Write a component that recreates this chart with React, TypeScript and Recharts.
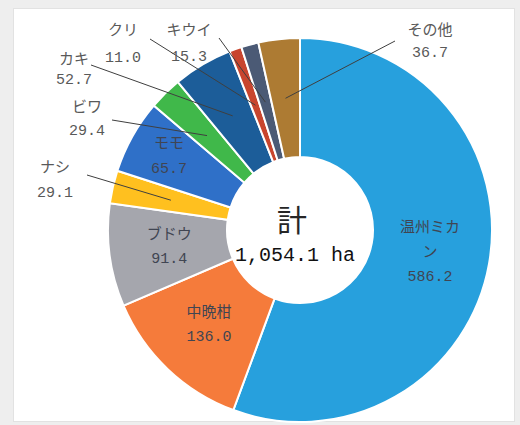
import React from 'react';
import { PieChart, Pie, Cell, Label } from 'recharts';

// ---- data ----
const CATEGORIES = ['温州ミカン', '中晩柑', 'ブドウ', 'ナシ', 'モモ', 'ビワ', 'カキ', 'クリ', 'キウイ', 'その他'];
const AREA_HA = [586.2, 136.0, 91.4, 29.1, 65.7, 29.4, 52.7, 11.0, 15.3, 36.7];
const COLORS = ['#27a0dd', '#f57b3b', '#a5a6ad', '#ffc01f', '#2f70c8', '#40b84a', '#1c5d99', '#c8452e', '#4b5a75', '#ad7b33'];
const TOTAL_TITLE = '計';
const TOTAL_LABEL = '1,054.1 ha';

// ---- label layout (offsets from pie centre) ----
const INSIDE: Record<string, { r: number; wrap?: number }> = {
  '温州ミカン': { r: 132, wrap: 4 },
  '中晩柑': { r: 132 },
  'ブドウ': { r: 132 },
  'モモ': { r: 150 },
};
const OUTSIDE: Record<string, { tx: number; ty: number; lx: number; ly: number; step?: number }> = {
  'ナシ': { tx: -245, ty: -62, lx: -213, ly: -55 },
  'ビワ': { tx: -213, ty: -122, lx: -188, ly: -110, step: 23 },
  'カキ': { tx: -226, ty: -170, lx: -209, ly: -165, step: 20 },
  'クリ': { tx: -177, ty: -199, lx: -150, ly: -191, step: 27 },
  'キウイ': { tx: -111, ty: -199, lx: -81, ly: -192, step: 26 },
  'その他': { tx: 130, ty: -199, lx: 95, ly: -189, step: 22 },
};

const data = CATEGORIES.map((name, i) => ({ name, value: AREA_HA[i] }));
const RADIAN = Math.PI / 180;
const LABEL_FONT = '"Liberation Mono", "Noto Sans CJK JP", monospace';

const renderLabel = (props: any) => {
  const { cx, cy, midAngle, innerRadius, outerRadius, name, value } = props;
  const valText = Number(value).toFixed(1);
  if (INSIDE[name]) {
    const cfg = INSIDE[name];
    const r = cfg.r ?? (innerRadius + outerRadius) / 2;
    const x = cx + r * Math.cos(-midAngle * RADIAN);
    const y = cy + r * Math.sin(-midAngle * RADIAN);
    const lines: string[] = cfg.wrap ? [name.slice(0, cfg.wrap), name.slice(cfg.wrap), valText] : [name, valText];
    const step = 24.5;
    const y0 = y - ((lines.length - 1) * step) / 2;
    return (
      <text x={x} y={y0} fill="#404552" fontSize={15} fontFamily={LABEL_FONT} textAnchor="middle">
        {lines.map((l, i) => (
          <tspan key={i} x={x} y={y0 + i * step} dominantBaseline="central">{l}</tspan>
        ))}
      </text>
    );
  }
  const o = OUTSIDE[name];
  if (!o) return null;
  const mr = (innerRadius + outerRadius) / 2;
  const ex = cx + mr * Math.cos(-midAngle * RADIAN);
  const ey = cy + mr * Math.sin(-midAngle * RADIAN);
  const step = o.step ?? 25;
  return (
    <g>
      <line x1={cx + o.lx} y1={cy + o.ly} x2={ex} y2={ey} stroke="#3f3f3f" strokeWidth={1} />
      <text x={cx + o.tx} y={cy + o.ty} fill="#595959" fontSize={15} fontFamily={LABEL_FONT} textAnchor="middle">
        <tspan x={cx + o.tx} y={cy + o.ty} dominantBaseline="central">{name}</tspan>
        <tspan x={cx + o.tx} y={cy + o.ty + step} dominantBaseline="central">{valText}</tspan>
      </text>
    </g>
  );
};

const renderCenter = (props: any) => {
  const vb = props.viewBox || {};
  const cx = vb.cx ?? 295;
  const cy = vb.cy ?? 225;
  return (
    <g>
      <text x={cx - 3} y={cy - 7} textAnchor="middle" dominantBaseline="central" fontSize={30} fill="#262626" fontFamily='"Noto Sans CJK JP", sans-serif'>
        {TOTAL_TITLE}
      </text>
      <text x={cx} y={cy + 30} textAnchor="middle" dominantBaseline="central" fontSize={20} fill="#111" fontFamily='"Liberation Mono", monospace'>
        {TOTAL_LABEL}
      </text>
    </g>
  );
};

export default function App() {
  return (
    <div style={{ position: 'absolute', left: 0, top: 0, width: 520, height: 425, background: '#eeeeee', overflow: 'hidden' }}>
      <div style={{ position: 'absolute', left: 13, top: 8, width: 500, height: 412, background: '#ffffff', border: '1px solid #e2e2e2' }} />
      <div style={{ position: 'absolute', left: 0, top: 0 }}>
        <PieChart width={520} height={425}>
          <Pie
            data={data}
            dataKey="value"
            nameKey="name"
            cx={295}
            cy={225}
            innerRadius={73}
            outerRadius={192}
            startAngle={90}
            endAngle={-270}
            stroke="#ffffff"
            strokeWidth={2}
            label={renderLabel}
            labelLine={false}
            isAnimationActive={false}
          >
            {data.map((d, i) => (
              <Cell key={d.name} fill={COLORS[i]} />
            ))}
            <Label position="center" content={renderCenter} />
          </Pie>
        </PieChart>
      </div>
    </div>
  );
}
